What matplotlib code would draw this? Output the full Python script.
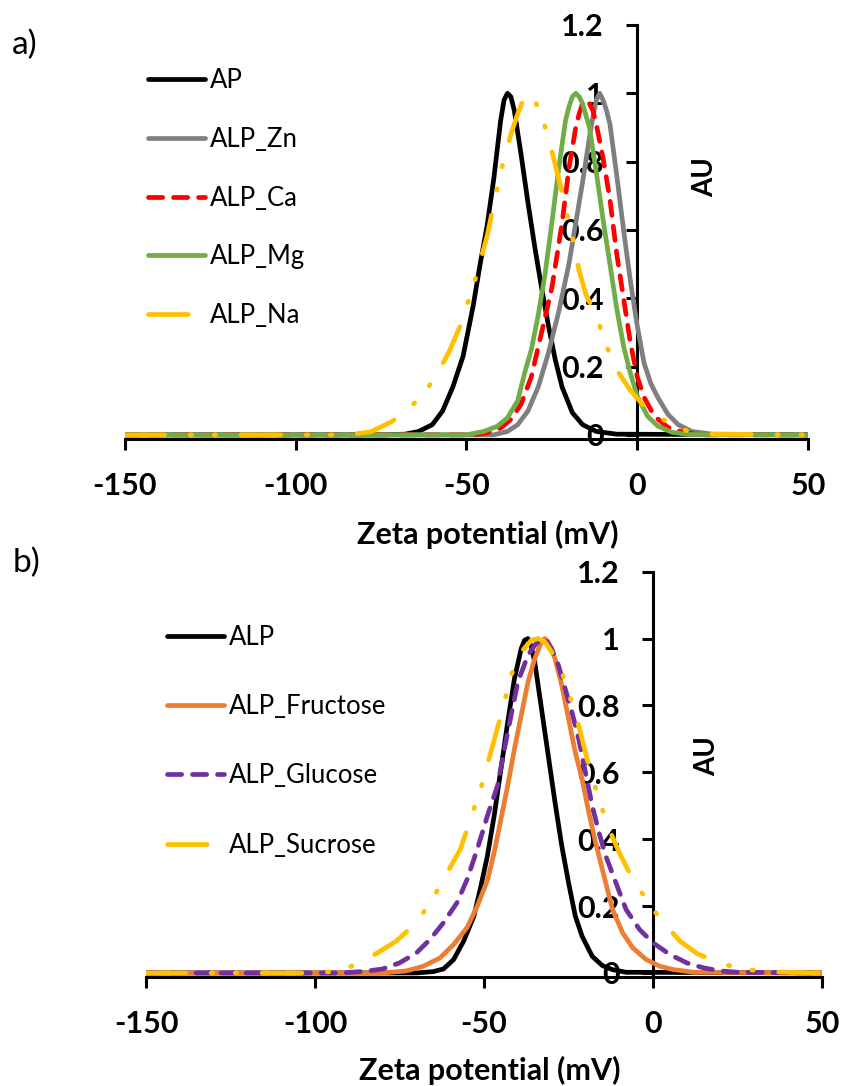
import matplotlib
matplotlib.use('Agg')
import matplotlib.pyplot as plt

plt.rcParams['font.family'] = ['Lato', 'DejaVu Sans']

# ---- a) ALP with metal ions ----
x_ap = [-150, -75, -68, -64, -60, -57, -54, -51, -48, -46, -44, -42, -40, -39, -38, -37, -36, -34, -32, -30,
        -28, -26, -24, -22, -19, -16, -12, -6, 50]
y_ap = [0, 0, 0.002, 0.01, 0.03, 0.07, 0.14, 0.23, 0.38, 0.5, 0.61, 0.75, 0.92, 0.98, 1.0, 0.99, 0.95, 0.82, 0.68, 0.55,
        0.43, 0.32, 0.22, 0.14, 0.065, 0.03, 0.01, 0.002, 0]

x_zn = [-150, -42, -38, -35, -32, -29, -26, -23, -20, -18, -16, -14, -13, -12, -11, -10, -9, -8, -6, -4, -2, 0,
        2, 4, 6, 9, 12, 16, 22, 50]
y_zn = [0, 0, 0.01, 0.03, 0.07, 0.14, 0.24, 0.36, 0.5, 0.62, 0.74, 0.87, 0.93, 0.98, 1.0, 0.98, 0.95, 0.91, 0.76, 0.6, 0.45, 0.32,
        0.21, 0.15, 0.11, 0.06, 0.03, 0.01, 0.002, 0]

x_ca = [-150, -48, -44, -40, -37, -34, -31, -28, -25, -22, -20, -18, -17, -16, -15, -14, -13, -12, -10, -8, -6, -4,
        -2, 0, 2, 5, 9, 14, 20, 50]
y_ca = [0, 0, 0.006, 0.02, 0.045, 0.09, 0.17, 0.3, 0.43, 0.62, 0.78, 0.9, 0.94, 0.97, 0.98, 0.97, 0.95, 0.91, 0.81, 0.69, 0.53, 0.4,
        0.27, 0.17, 0.11, 0.055, 0.022, 0.006, 0, 0]

x_mg = [-150, -50, -45, -41, -38, -35, -33, -31, -29, -27, -25, -23, -21, -20, -19, -18, -17, -16, -14, -12, -10, -8,
        -6, -4, -2, 0, 3, 6, 10, 15, 50]
y_mg = [0, 0, 0.01, 0.025, 0.05, 0.1, 0.18, 0.25, 0.35, 0.47, 0.62, 0.78, 0.92, 0.96, 0.99, 1.0, 0.99, 0.97, 0.9, 0.77, 0.63, 0.5,
        0.37, 0.26, 0.18, 0.114, 0.055, 0.026, 0.008, 0.001, 0]

x_na = [-150, -85, -78, -72, -67, -62, -58, -55, -52, -48, -44, -40, -37, -35, -33, -32, -31, -30, -27.5, -25, -22, -19,
        -17, -15, -12, -9, -6, -2, 2, 6, 10, 15, 22, 50]
y_na = [0, 0, 0.009, 0.038, 0.075, 0.126, 0.19, 0.245, 0.315, 0.435, 0.58, 0.77, 0.88, 0.94, 0.99, 1.0, 0.995, 0.98, 0.92, 0.83, 0.71, 0.58,
        0.48, 0.41, 0.35, 0.26, 0.19, 0.13, 0.085, 0.055, 0.03, 0.01, 0.002, 0]

# ---- b) ALP with sugars ----
x_alp = [-150, -70, -65, -62, -59, -56, -53, -51, -49, -47, -45, -43, -41, -39, -38, -37, -36, -35, -33, -31, -29, -27,
         -25, -23, -21, -18, -15, -12, -8, 50]
y_alp = [0, 0, 0.004, 0.012, 0.04, 0.096, 0.17, 0.256, 0.35, 0.47, 0.61, 0.75, 0.88, 0.97, 0.995, 1.0, 0.975, 0.93, 0.79, 0.65, 0.51, 0.38,
         0.27, 0.17, 0.11, 0.05, 0.022, 0.01, 0.002, 0]

x_fru = [-150, -80, -73, -68, -63, -59, -55, -52, -49, -47, -45, -43, -41, -39, -37, -35, -33, -32, -31, -29,
         -27, -25, -23, -21, -19, -17, -15, -12, -9, -6, -2, 2, 6, 12, 50]
y_fru = [0, 0, 0.006, 0.02, 0.045, 0.085, 0.136, 0.2, 0.277, 0.36, 0.46, 0.56, 0.67, 0.77, 0.87, 0.94, 0.99, 1.0, 0.99, 0.94,
         0.86, 0.76, 0.66, 0.58, 0.48, 0.39, 0.31, 0.19, 0.12, 0.075, 0.04, 0.02, 0.01, 0.002, 0]

x_glu = [-150, -92, -85, -80, -75, -70, -66, -62, -58, -55, -52, -49, -46, -43, -40, -37, -35, -33, -32, -30,
         -28, -26, -24, -22, -20, -18, -16, -14, -11, -8, -4, 0, 5, 10, 15, 20, 25, 50]
y_glu = [0, 0, 0.005, 0.012, 0.03, 0.06, 0.1, 0.15, 0.21, 0.28, 0.37, 0.47, 0.56, 0.72, 0.87, 0.95, 0.98, 1.0, 1.0, 0.97,
         0.92, 0.85, 0.78, 0.7, 0.6, 0.5, 0.42, 0.35, 0.27, 0.19, 0.13, 0.09, 0.055, 0.03, 0.015, 0.006, 0.002, 0]

x_suc = [-150, -100, -93, -88, -82, -76, -70, -66, -63, -60, -57, -54, -51, -48, -45, -42, -39, -36, -34, -32,
         -30, -28, -25, -22, -19, -16, -13, -10, -7, -4, 0, 4, 8, 13, 19, 26, 35, 50]
y_suc = [0, 0, 0.006, 0.025, 0.057, 0.095, 0.15, 0.21, 0.26, 0.316, 0.37, 0.46, 0.55, 0.66, 0.77, 0.89, 0.96, 0.995, 1.0, 0.99,
         0.96, 0.93, 0.84, 0.74, 0.62, 0.52, 0.43, 0.36, 0.3, 0.25, 0.19, 0.14, 0.095, 0.058, 0.032, 0.012, 0.003, 0]

x_ticks = [-150, -100, -50, 0, 50]
x_ticklabels = ['-150', '-100', '-50', '0', '50']
y_ticks = [0, 0.2, 0.4, 0.6, 0.8, 1.0, 1.2]
y_ticklabels = ['0', '0.2', '0.4', '0.6', '0.8', '1', '1.2']

# line styles (Excel-like)
SOLID = None
DASH = (3.0, 2.3)
LONGDASHDOTDOT = (8.4, 5.4, 0.3, 4.8, 0.3, 5.4)

series_a = [
    (x_ap, y_ap, 'AP', '#000000', SOLID),
    (x_zn, y_zn, 'ALP_Zn', '#7F7F7F', SOLID),
    (x_ca, y_ca, 'ALP_Ca', '#FF0000', DASH),
    (x_mg, y_mg, 'ALP_Mg', '#70AD47', SOLID),
    (x_na, y_na, 'ALP_Na', '#FFC000', LONGDASHDOTDOT),
]
series_b = [
    (x_alp, y_alp, 'ALP', '#000000', SOLID),
    (x_fru, y_fru, 'ALP_Fructose', '#ED7D31', SOLID),
    (x_glu, y_glu, 'ALP_Glucose', '#7030A0', DASH),
    (x_suc, y_suc, 'ALP_Sucrose', '#FFC000', LONGDASHDOTDOT),
]


def draw_panel(ax, series, xlab_x, au_pos, leg_anchor, leg_spacing):
    for x, y, label, color, dashes in series:
        line, = ax.plot(x, y, color=color, lw=3.4, label=label, zorder=3,
                        solid_capstyle='round', dash_capstyle='round',
                        solid_joinstyle='round', dash_joinstyle='round')
        if dashes is not None:
            line.set_dashes(dashes)

    ax.set_xlim(-150, 50)
    ax.set_ylim(-0.012, 1.2)
    ax.spines['top'].set_visible(False)
    ax.spines['right'].set_visible(False)
    ax.spines['left'].set_position(('data', 0))
    for s in ['left', 'bottom']:
        ax.spines[s].set_linewidth(2.2)

    ax.set_xticks(x_ticks, labels=x_ticklabels, fontsize=22, fontweight='bold')
    ax.set_yticks(y_ticks, labels=y_ticklabels, fontsize=22, fontweight='bold')
    ax.tick_params(axis='both', direction='out', length=8, width=2.2)
    ax.tick_params(axis='x', pad=16)
    ax.tick_params(axis='y', pad=16)

    ax.set_xlabel('Zeta potential (mV)', fontsize=22, fontweight='bold')
    ax.xaxis.set_label_coords(xlab_x, -0.195)
    ax.text(au_pos[0], au_pos[1], 'AU', transform=ax.transAxes, rotation=90,
            ha='center', va='center', fontsize=20, fontweight='bold')

    ax.legend(loc='upper left', bbox_to_anchor=leg_anchor, bbox_transform=ax.figure.transFigure,
              frameon=False, fontsize=18.5, handlelength=2.2, handletextpad=0.2,
              labelspacing=leg_spacing, borderpad=0, borderaxespad=0)


fig = plt.figure(figsize=(8.44, 10.86), dpi=100)
ax1 = fig.add_axes([0.1481, 0.5958, 0.8092, 0.3812])
ax2 = fig.add_axes([0.173, 0.1004, 0.801, 0.3732])

draw_panel(ax1, series_a, 0.531, (0.849, 0.632), (0.1754, 0.937), 1.31)
draw_panel(ax2, series_b, 0.509, (0.83, 0.546), (0.198, 0.4245), 1.72)

fig.text(25 / 844, 1 - 45 / 1086, 'a)', fontsize=24, ha='center', va='center')
fig.text(27 / 844, 1 - 563 / 1086, 'b)', fontsize=24, ha='center', va='center')

fig.savefig('out.png', dpi=100)
